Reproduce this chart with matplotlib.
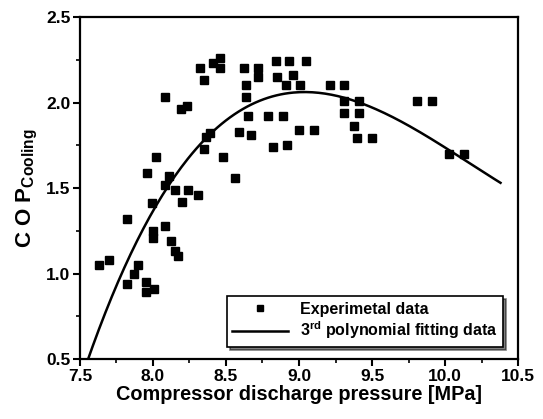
import numpy as np
import matplotlib
matplotlib.use("Agg")
import matplotlib.pyplot as plt

# font: bold arial-like everywhere, also inside mathtext
plt.rcParams['font.family'] = 'Liberation Sans'
plt.rcParams['font.weight'] = 'bold'
plt.rcParams['mathtext.fontset'] = 'custom'
plt.rcParams['mathtext.rm'] = 'Liberation Sans:bold'
plt.rcParams['mathtext.it'] = 'Liberation Sans:bold'
plt.rcParams['mathtext.bf'] = 'Liberation Sans:bold'

pressure = [8.08, 8.19, 8.23, 8.32, 8.35, 8.41, 8.46, 8.46, 8.62, 8.72,
            8.72, 8.64, 8.64, 8.84, 8.85, 8.93, 8.96, 8.91, 9.01, 9.05,
            8.65, 8.79, 8.89, 9.00, 8.59, 8.67, 8.82, 8.92, 8.36, 8.39,
            8.35, 8.48, 8.56, 8.02, 7.96, 8.11, 8.08, 8.15, 8.24, 8.31,
            8.20, 7.99, 7.82, 8.08, 8.00, 8.00, 8.12, 8.15, 8.17, 7.63,
            7.70, 7.90, 7.87, 7.82, 7.95, 7.95, 8.01, 9.21, 9.31, 9.31,
            9.41, 9.31, 9.41, 9.38, 9.40, 9.50, 9.10, 9.81, 9.91, 10.03,
            10.13]
cop = [2.03, 1.96, 1.98, 2.20, 2.13, 2.23, 2.26, 2.20, 2.20, 2.20,
       2.15, 2.10, 2.03, 2.24, 2.15, 2.24, 2.16, 2.10, 2.10, 2.24,
       1.92, 1.92, 1.92, 1.84, 1.83, 1.81, 1.74, 1.75, 1.80, 1.82,
       1.73, 1.68, 1.56, 1.68, 1.59, 1.57, 1.52, 1.49, 1.49, 1.46,
       1.42, 1.41, 1.32, 1.28, 1.25, 1.21, 1.19, 1.13, 1.10, 1.05,
       1.08, 1.05, 1.00, 0.94, 0.95, 0.89, 0.91, 2.10, 2.10, 2.01,
       2.01, 1.94, 1.94, 1.86, 1.79, 1.79, 1.84, 2.01, 2.01, 1.70,
       1.70]

# points
curve_p = [7.557, 7.762, 8.116, 8.368, 8.642, 9.075, 9.41, 10.03, 10.377]
curve_cop = [0.50, 0.962, 1.518, 1.80, 1.966, 2.069, 2.005, 1.71, 1.537]

# 3rd order polynomial through the curve readings
coef = np.polyfit(curve_p, curve_cop, 3)
xfit = np.linspace(7.5, 10.38, 200)
yfit = np.polyval(coef, xfit)

fig = plt.figure(figsize=(5.43, 4.19), dpi=100)
ax = fig.add_axes([0.1473, 0.1432, 0.8067, 0.8162])

ax.plot(pressure, cop, 's', color='black', ms=5.8, label='Experimetal data')
ax.plot(xfit, yfit, '-', color='black', lw=1.8, label='3$^{rd}$ polynomial fitting data')

ax.set_xlim(7.5, 10.5)
ax.set_ylim(0.5, 2.5)
ax.set_xticks([7.5, 8.0, 8.5, 9.0, 9.5, 10.0, 10.5])
ax.set_yticks([0.5, 1.0, 1.5, 2.0, 2.5])
ax.set_xticks(np.arange(7.75, 10.5, 0.5), minor=True)
ax.set_yticks(np.arange(0.75, 2.5, 0.5), minor=True)
ax.tick_params(which='major', direction='out', length=5, width=1.5, labelsize=12.5, pad=2)
ax.tick_params(which='minor', direction='out', length=3, width=1.2)
for s in ax.spines.values():
    s.set_linewidth(1.6)

ax.set_xlabel('Compressor discharge pressure [MPa]', fontsize=14.3, fontweight='bold', labelpad=1)
ax.set_ylabel('C O P$_{Cooling}$', fontsize=16, fontweight='bold', labelpad=4)

leg = ax.legend(loc='lower right', bbox_to_anchor=(0.966, 0.035), borderaxespad=0,
                fancybox=False, framealpha=1, edgecolor='black', fontsize=11.5,
                shadow={'color': 'black'}, handlelength=3.5, markerscale=0.8,
                labelspacing=0.2, borderpad=0.35, handletextpad=0.7)
leg.get_frame().set_linewidth(1.2)

fig.savefig('out.png', dpi=100)
